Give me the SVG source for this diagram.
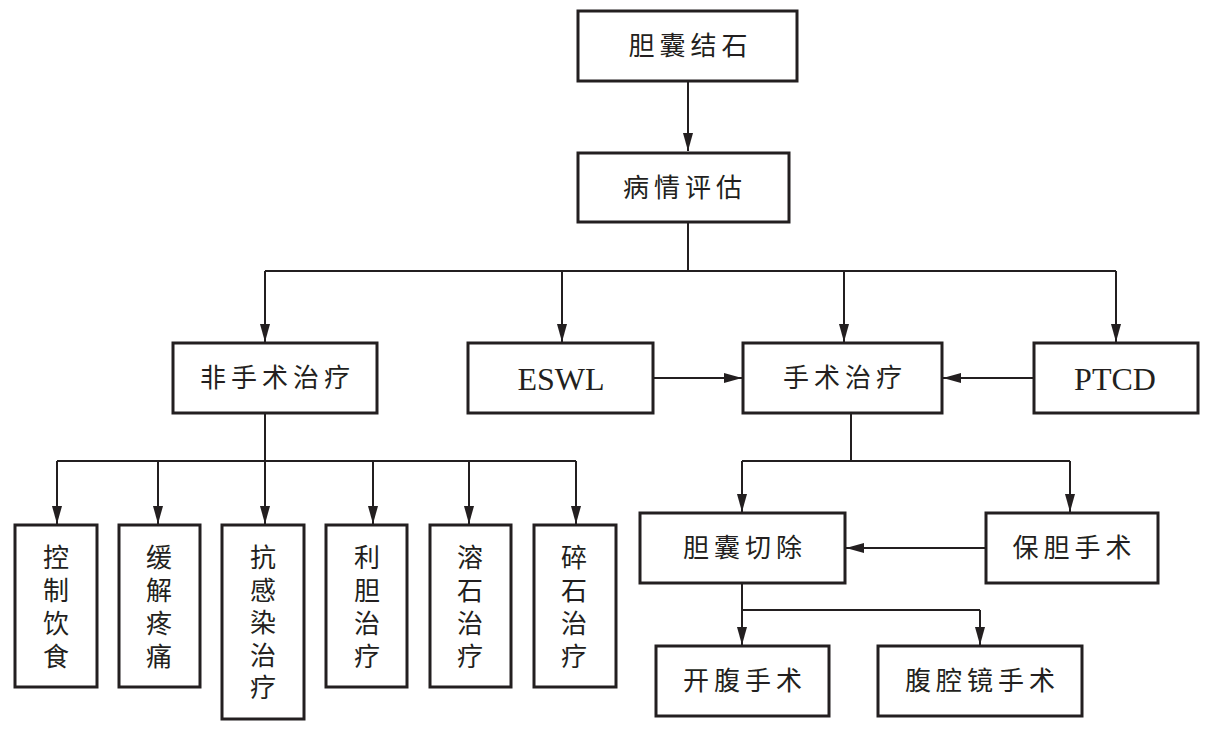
<svg xmlns="http://www.w3.org/2000/svg" width="1212" height="730" viewBox="0 0 1212 730">
<defs>
<style>
.box{fill:#fff;stroke:#231f20;stroke-width:3}
.t{font-family:"Liberation Serif","Noto Sans CJK SC",serif;font-size:26px;fill:#231f20;text-anchor:middle;dominant-baseline:central;letter-spacing:5px}
.e{font-family:"Liberation Serif","Noto Sans CJK SC",serif;font-size:32px;fill:#231f20;text-anchor:middle;dominant-baseline:central}
.v{font-family:"Liberation Serif","Noto Sans CJK SC",serif;font-size:26px;fill:#231f20;text-anchor:middle;dominant-baseline:central}
.c{fill:none;stroke:#231f20;stroke-width:2}
</style>
<marker id="ah" markerUnits="userSpaceOnUse" markerWidth="18" markerHeight="10" refX="18" refY="5" orient="auto" viewBox="0 0 18 10">
<path d="M0,0 L18,5 L0,10 Z" fill="#231f20"/>
</marker>
</defs>
<rect width="1212" height="730" fill="#fff"/>
<g id="connectors">
<path class="c" d="M688,82 V151" marker-end="url(#ah)"/>
<path class="c" d="M688,223 V271"/>
<path class="c" d="M265,271 H1116"/>
<path class="c" d="M265,271 V342" marker-end="url(#ah)"/>
<path class="c" d="M562,271 V342" marker-end="url(#ah)"/>
<path class="c" d="M844,271 V342" marker-end="url(#ah)"/>
<path class="c" d="M1116,271 V342" marker-end="url(#ah)"/>
<path class="c" d="M654,378 H742" marker-end="url(#ah)"/>
<path class="c" d="M1033,378 H943" marker-end="url(#ah)"/>
<path class="c" d="M265,414 V461"/>
<path class="c" d="M57,461 H576"/>
<path class="c" d="M57,461 V524" marker-end="url(#ah)"/>
<path class="c" d="M158,461 V524" marker-end="url(#ah)"/>
<path class="c" d="M265,461 V524" marker-end="url(#ah)"/>
<path class="c" d="M373,461 V524" marker-end="url(#ah)"/>
<path class="c" d="M469,461 V524" marker-end="url(#ah)"/>
<path class="c" d="M576,461 V524" marker-end="url(#ah)"/>
<path class="c" d="M851,414 V461"/>
<path class="c" d="M742,461 H1070"/>
<path class="c" d="M742,461 V512" marker-end="url(#ah)"/>
<path class="c" d="M1070,461 V512" marker-end="url(#ah)"/>
<path class="c" d="M985,548 H846" marker-end="url(#ah)"/>
<path class="c" d="M742,584 V610"/>
<path class="c" d="M742,610 H980"/>
<path class="c" d="M742,610 V645" marker-end="url(#ah)"/>
<path class="c" d="M980,610 V645" marker-end="url(#ah)"/>
</g>
<g id="n-gallstone"><rect class="box" x="578" y="11" width="219" height="70"/><text class="t" x="690.5" y="46">胆囊结石</text></g>
<g id="n-assess"><rect class="box" x="578" y="153" width="211" height="69"/><text class="t" x="685" y="188">病情评估</text></g>
<g id="n-nonsurg"><rect class="box" x="173" y="343" width="204" height="70"/><text class="t" x="277.5" y="378">非手术治疗</text></g>
<g id="n-eswl"><rect class="box" x="468" y="343" width="185" height="70"/><text class="e" x="561" y="379">ESWL</text></g>
<g id="n-surg"><rect class="box" x="743" y="343" width="199" height="70"/><text class="t" x="845" y="378">手术治疗</text></g>
<g id="n-ptcd"><rect class="box" x="1034" y="343" width="164" height="70"/><text class="e" x="1115" y="379">PTCD</text></g>
<g id="n-diet"><rect class="box" x="15" y="525" width="82" height="162"/><text class="v"><tspan x="56" y="558">控</tspan><tspan x="56" y="591">制</tspan><tspan x="56" y="624">饮</tspan><tspan x="56" y="657">食</tspan></text></g>
<g id="n-pain"><rect class="box" x="119" y="525" width="81" height="162"/><text class="v"><tspan x="159" y="558">缓</tspan><tspan x="159" y="591">解</tspan><tspan x="159" y="624">疼</tspan><tspan x="159" y="657">痛</tspan></text></g>
<g id="n-anti"><rect class="box" x="222" y="525" width="82" height="194"/><text class="v"><tspan x="263" y="558">抗</tspan><tspan x="263" y="590.5">感</tspan><tspan x="263" y="623">染</tspan><tspan x="263" y="655.5">治</tspan><tspan x="263" y="688">疗</tspan></text></g>
<g id="n-bile"><rect class="box" x="326" y="525" width="81" height="162"/><text class="v"><tspan x="367" y="558">利</tspan><tspan x="367" y="591">胆</tspan><tspan x="367" y="624">治</tspan><tspan x="367" y="657">疗</tspan></text></g>
<g id="n-dissolve"><rect class="box" x="430" y="525" width="81" height="162"/><text class="v"><tspan x="470" y="558">溶</tspan><tspan x="470" y="591">石</tspan><tspan x="470" y="624">治</tspan><tspan x="470" y="657">疗</tspan></text></g>
<g id="n-crush"><rect class="box" x="534" y="525" width="82" height="162"/><text class="v"><tspan x="574" y="558">碎</tspan><tspan x="574" y="591">石</tspan><tspan x="574" y="624">治</tspan><tspan x="574" y="657">疗</tspan></text></g>
<g id="n-chole"><rect class="box" x="640" y="513" width="205" height="70"/><text class="t" x="745" y="548">胆囊切除</text></g>
<g id="n-preserve"><rect class="box" x="986" y="513" width="172" height="70"/><text class="t" x="1074.5" y="548">保胆手术</text></g>
<g id="n-open"><rect class="box" x="656" y="646" width="173" height="70"/><text class="t" x="745" y="681">开腹手术</text></g>
<g id="n-lap"><rect class="box" x="878" y="646" width="204" height="70"/><text class="t" x="982.5" y="681">腹腔镜手术</text></g>
</svg>
